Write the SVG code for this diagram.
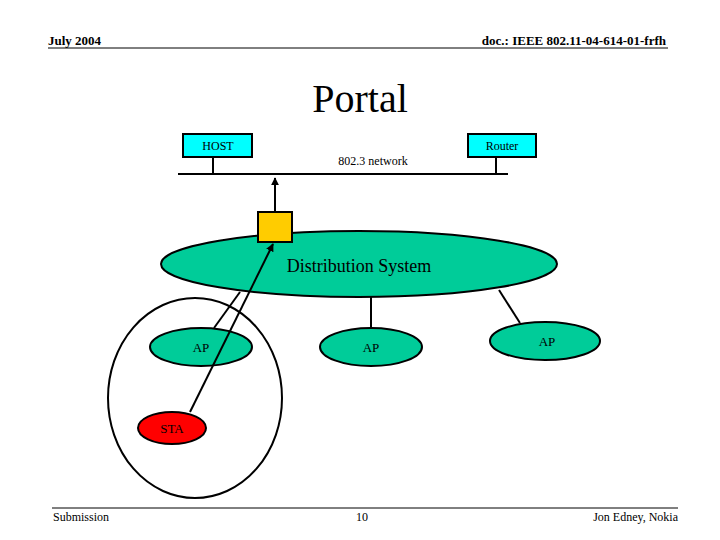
<svg xmlns="http://www.w3.org/2000/svg" width="720" height="540" viewBox="0 0 720 540">
<style>
text{font-family:"Liberation Serif",serif;fill:#000}
.n{stroke:#000;stroke-width:2}
.l{stroke:#000;stroke-width:2;fill:none}
</style>
<defs><marker id="a" viewBox="0 0 10 10" refX="9" refY="5" markerWidth="4" markerHeight="4" orient="auto"><path d="M0 0L10 5L0 10z" fill="#000"/></marker></defs>
<rect width="720" height="540" fill="#fff"/>
<g id="header"><text x="48" y="45" font-size="13" font-weight="bold">July 2004</text><text x="666" y="45" font-size="13" font-weight="bold" text-anchor="end">doc.: IEEE 802.11-04-614-01-frfh</text><line x1="48" y1="48" x2="668" y2="48" stroke="#000"/></g>
<text x="360" y="112" font-size="40" text-anchor="middle">Portal</text>
<g id="connectors">
<line class="l" x1="178" y1="174" x2="508" y2="174"/>
<line class="l" x1="213" y1="157" x2="213" y2="174"/>
<line class="l" x1="496" y1="157" x2="496" y2="174"/>
<line class="l" x1="275" y1="212" x2="275" y2="178" marker-end="url(#a)"/>
<line class="l" x1="240" y1="292" x2="214" y2="328"/>
<line class="l" x1="371" y1="297" x2="371" y2="328"/>
<line class="l" x1="499" y1="290" x2="520" y2="323"/>
<ellipse class="l" cx="195" cy="398" rx="87" ry="100"/>
</g>
<g id="host"><rect class="n" x="183" y="134" width="69" height="23" fill="#00ffff"/><text x="218" y="150" font-size="12" text-anchor="middle">HOST</text></g>
<g id="router"><rect class="n" x="468" y="134" width="68" height="23" fill="#00ffff"/><text x="502" y="150" font-size="12" text-anchor="middle">Router</text></g>
<text x="373" y="165" font-size="12" text-anchor="middle">802.3 network</text>
<g id="ds"><ellipse class="n" cx="359" cy="264" rx="198" ry="33" fill="#00cc99"/><text x="359" y="272" font-size="18" text-anchor="middle">Distribution System</text></g>
<g id="portal"><rect class="n" x="258" y="212" width="34" height="30" fill="#ffcc00"/></g>
<g id="ap1"><ellipse class="n" cx="201" cy="347" rx="51" ry="19" fill="#00cc99"/><text x="201" y="352" font-size="13" text-anchor="middle">AP</text></g>
<g id="ap2"><ellipse class="n" cx="371" cy="347" rx="51" ry="19" fill="#00cc99"/><text x="371" y="352" font-size="13" text-anchor="middle">AP</text></g>
<g id="ap3"><ellipse class="n" cx="545" cy="341" rx="55" ry="19" fill="#00cc99"/><text x="547" y="346" font-size="13" text-anchor="middle">AP</text></g>
<g id="sta"><ellipse class="n" cx="172" cy="428" rx="34" ry="16" fill="#ff0000"/><text x="172" y="433" font-size="13" text-anchor="middle" fill="#990000">STA</text></g>
<line class="l" x1="190" y1="412" x2="273" y2="244" marker-end="url(#a)"/>
<g id="footer"><line x1="52" y1="508" x2="678" y2="508" stroke="#000"/><text x="53" y="521" font-size="12">Submission</text><text x="362" y="521" font-size="12" text-anchor="middle">10</text><text x="678" y="521" font-size="12" text-anchor="end">Jon Edney, Nokia</text></g>
</svg>
